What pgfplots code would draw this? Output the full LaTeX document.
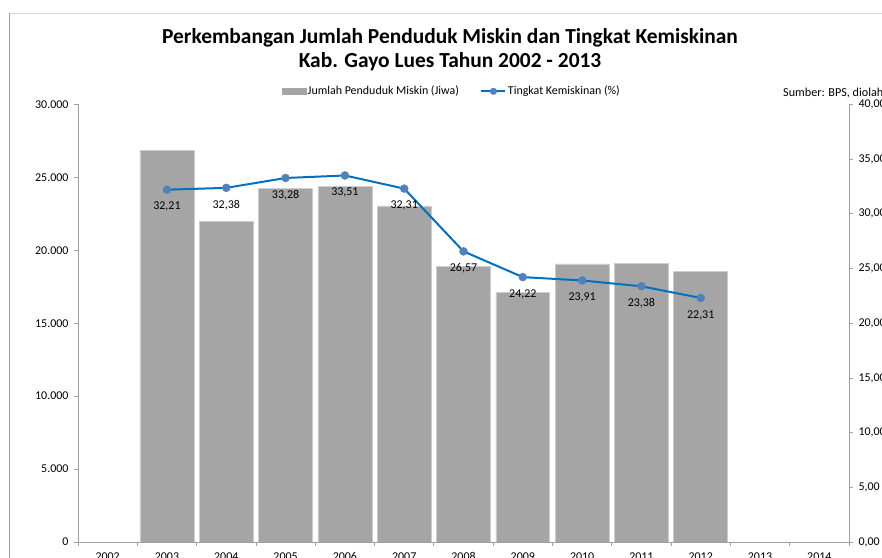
\documentclass[border=0pt]{standalone}
\usepackage{pgfplots}
\pgfplotsset{compat=1.18}
\usepackage{fontspec}
\setmainfont{Carlito}
\definecolor{barc}{HTML}{A5A5A5}
\definecolor{linec}{HTML}{0070C0}
\definecolor{markc}{HTML}{4F81BD}
\definecolor{axc}{HTML}{A0A0A0}
\begin{document}
\begin{tikzpicture}
\useasboundingbox (0,0) rectangle (882bp,558bp);
\clip (0,0) rectangle (882bp,558bp);
\draw[color=gray!30, line width=0.8bp] (9.5bp,545bp) -- (882bp,545bp);
\draw[color=gray!75, line width=0.8bp] (9.5bp,545bp) -- (9.5bp,0);
\node[font=\fontsize{21.5}{24}\selectfont\bfseries, align=center] at (450bp,508bp) {Perkembangan Jumlah Penduduk Miskin dan Tingkat Kemiskinan\\Kab. Gayo Lues Tahun 2002 - 2013};
\node[anchor=west, font=\fontsize{12.2}{14}\selectfont, inner sep=0] at (783bp,465bp) {Sumber: BPS, diolah};

\begin{axis}[
  at={(78bp,16bp)}, anchor=south west, scale only axis,
  width=771bp, height=437.5bp,
  xmin=-0.5, xmax=12.5, ymin=0, ymax=30000,
  axis x line=bottom, axis y line=left,
  axis line style={-, draw=axc, line width=0.8bp},
  xtick={-0.5,0.5,...,12.5},
  xticklabels={2002,2003,2004,2005,2006,2007,2008,2009,2010,2011,2012,2013,2014},
  x tick label as interval,
  xticklabel style={yshift=-3bp},
  ytick={0,5000,...,30000},
  scaled y ticks=false,
  tick align=outside, major tick length=4bp,
  tick style={draw=axc, line width=0.8bp},
  /pgf/number format/.cd, 1000 sep={.}, assume math mode=true,
  /pgfplots/.cd,
  ticklabel style={font=\fontsize{12}{14}\selectfont, text=black},
  yticklabel style={xshift=-2bp},
  legend columns=2,
  legend style={draw=none, fill=none, at={(0.4844,1.03)}, anchor=center,
    font=\fontsize{12}{14}\selectfont, inner sep=0pt,
    nodes={inner xsep=1.5bp},
    /tikz/every even column/.append style={column sep=20bp}},
  legend cell align=left,
]
\addplot[ybar, bar width=0.91, fill=barc, draw=barc!55!white, line width=0.6bp,
  legend image code/.code={\fill[barc] (0bp,-3bp) rectangle (24bp,3bp);}]
  coordinates {(1,26840) (2,21970) (3,24260) (4,24400) (5,23050) (6,18880) (7,17100) (8,19070) (9,19090) (10,18570)};
\addlegendentry{Jumlah Penduduk Miskin (Jiwa)}
\addlegendimage{legend image code/.code={\draw[linec, line width=2bp] (0bp,0bp) -- (24bp,0bp); \fill[markc] (12bp,0bp) circle (3.3bp);}}
\addlegendentry{Tingkat Kemiskinan (\%)}
\end{axis}

\begin{axis}[
  at={(78bp,16bp)}, anchor=south west, scale only axis,
  width=771bp, height=437.5bp,
  xmin=-0.5, xmax=12.5, ymin=0, ymax=40,
  axis x line=none, axis y line=right,
  axis line style={-, draw=axc, line width=0.8bp},
  ytick={0,5,...,40},
  tick align=outside, major tick length=4bp,
  tick style={draw=axc, line width=0.8bp},
  /pgf/number format/.cd, fixed, fixed zerofill, precision=2, use comma, assume math mode=true,
  /pgfplots/.cd,
  ticklabel style={font=\fontsize{12}{14}\selectfont, text=black},
  yticklabel style={xshift=2bp},
  clip=false,
]
\addplot[linec, line width=2bp, mark=*, mark size=4bp,
  mark options={solid, fill=markc, draw=markc, line width=0.4bp},
  point meta=explicit symbolic, nodes near coords,
  every node near coord/.append style={anchor=center, yshift=-17bp, font=\fontsize{12}{14}\selectfont, text=black}]
  coordinates {(1,32.21) [32,21] (2,32.38) [32,38] (3,33.28) [33,28] (4,33.51) [33,51] (5,32.31) [32,31] (6,26.57) [26,57] (7,24.22) [24,22] (8,23.91) [23,91] (9,23.38) [23,38] (10,22.31) [22,31]};
\end{axis}
\end{tikzpicture}
\end{document}
